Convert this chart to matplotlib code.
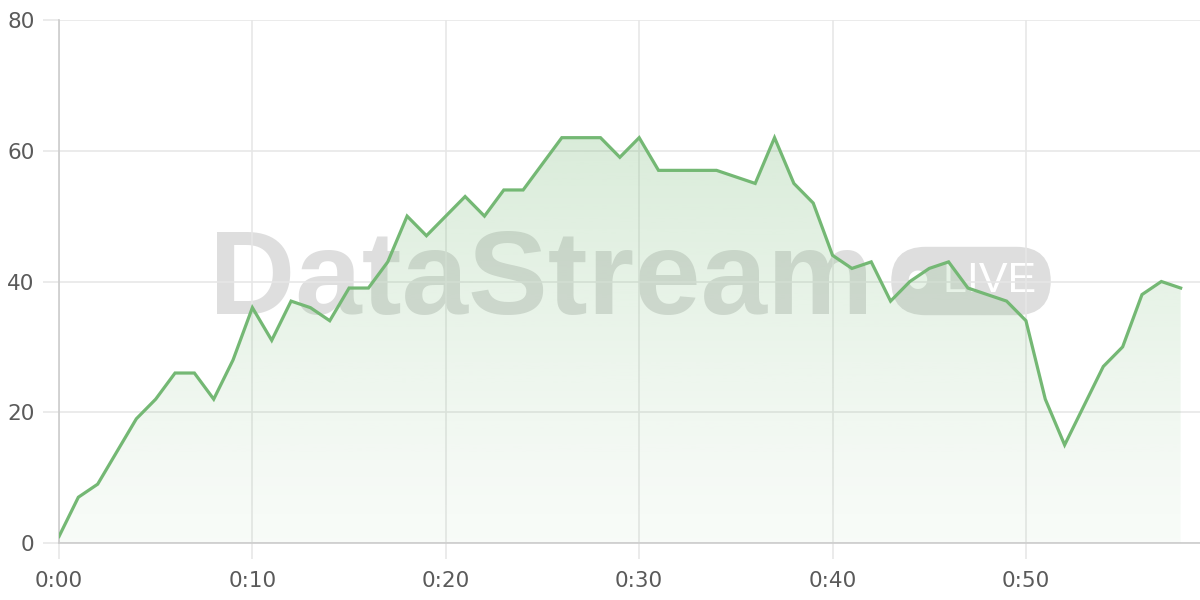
import matplotlib.pyplot as plt
import numpy as np
from matplotlib.patches import Polygon

# minutes since start and the value at each minute
minutes = list(range(0, 59))
values = [1, 7, 9, 14, 19, 22, 26, 26, 22, 28,
          36, 31, 37, 36, 34, 39, 39, 43, 50, 47,
          50, 53, 50, 54, 54, 58, 62, 62, 62, 59,
          62, 57, 57, 57, 57, 56, 55, 62, 55, 52,
          44, 42, 43, 37, 40, 42, 43, 39, 38, 37,
          34, 22, 15, 21, 27, 30, 38, 40, 39]
x_ticks = [0, 10, 20, 30, 40, 50]
x_labels = ['0:00', '0:10', '0:20', '0:30', '0:40', '0:50']
y_ticks = [0, 20, 40, 60, 80]

line_color = '#74b874'
grid_color = '#e6e6e6'
plt.rcParams['font.family'] = ['DejaVu Sans']

fig = plt.figure(figsize=(12, 6), dpi=100)
ax = fig.add_axes([59 / 1200, 57 / 600, 1 - 59 / 1200, 523 / 600])
ax.set_xlim(0, 59)
ax.set_ylim(0, 80)
ax.set_axisbelow(True)

# watermark, under everything else
ax.text(541 / 1200, 1 - 314 / 600, 'DataStream', transform=fig.transFigure,
        ha='center', va='baseline', fontsize=86, fontweight='bold',
        family='Liberation Sans', color='#dedede', zorder=0.1)
ax.text(971 / 1200, 1 - 281 / 600, '\u25cf LIVE', transform=fig.transFigure,
        ha='center', va='center', fontsize=31, color='white', zorder=0.1,
        family='Liberation Sans',
        bbox=dict(boxstyle='round,pad=0.33,rounding_size=0.8', fc='#dedede', ec='none'))

# gradient fill under the line
grad = np.linspace(0, 1, 256).reshape(-1, 1)
rgba = np.zeros((256, 1, 4))
rgba[:, 0, :3] = [0x74 / 255, 0xb8 / 255, 0x74 / 255]
rgba[:, 0, 3] = 0.05 + 0.22 * grad[:, 0] ** 1.2
img = ax.imshow(rgba, extent=[0, 59, 0, max(values)], origin='lower',
                aspect='auto', zorder=1)
verts = [(minutes[0], 0)] + list(zip(minutes, values)) + [(minutes[-1], 0)]
clip = Polygon(verts, closed=True, facecolor='none', edgecolor='none')
ax.add_patch(clip)
img.set_clip_path(clip)

ax.plot(minutes, values, color=line_color, linewidth=2.3, zorder=3,
        solid_joinstyle='miter')

ax.set_xticks(x_ticks)
ax.set_xticklabels(x_labels)
ax.set_yticks(y_ticks)
ax.grid(True, color=grid_color, linewidth=1.1)
ax.tick_params(axis='both', colors=grid_color, labelcolor='#5a5a5a',
               labelsize=15.5, length=11.5, width=1.1)
ax.tick_params(axis='y', pad=6)
ax.tick_params(axis='x', pad=9)

for side in ['top', 'right']:
    ax.spines[side].set_visible(False)
for side in ['left', 'bottom']:
    ax.spines[side].set_color('#cccccc')
    ax.spines[side].set_linewidth(1.2)

fig.savefig('out.png', dpi=100)
